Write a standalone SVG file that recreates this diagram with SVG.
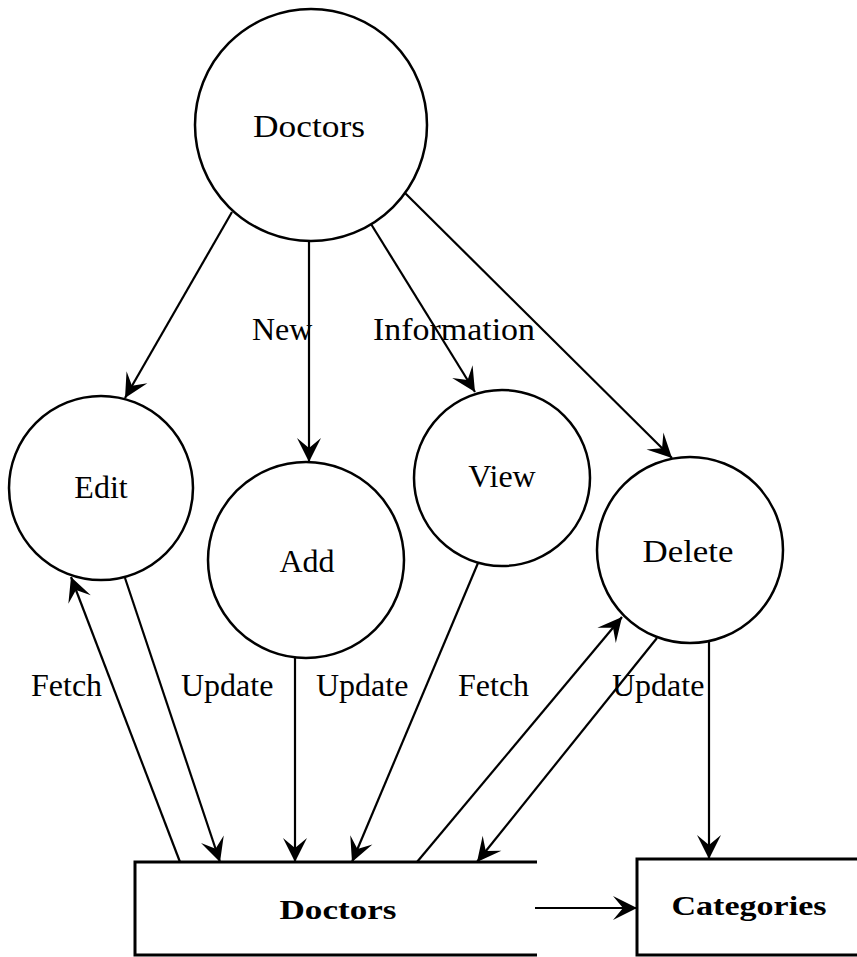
<svg xmlns="http://www.w3.org/2000/svg" width="857" height="957" viewBox="0 0 857 957">
  <style>
    .node { fill: #ffffff; stroke: #000000; stroke-width: 2.5; }
    .lbl { font-family: "Liberation Serif", "Times New Roman", serif; font-size: 32px; fill: #000000; }
    .mid { text-anchor: middle; }
    .store { font-family: "Liberation Serif", "Times New Roman", serif; font-size: 28px; font-weight: bold; fill: #000000; text-anchor: middle; }
    .edge { fill: none; stroke: #000000; stroke-width: 2.2; marker-end: url(#arrow); }
    .side { fill: none; stroke: #000000; stroke-width: 3; }
  </style>
  <defs>
    <marker id="arrow" markerUnits="userSpaceOnUse" viewBox="-26 -14 28 28" markerWidth="28" markerHeight="28" refX="0" refY="0" orient="auto">
      <path d="M0,0 L-24,-12 L-14,0 L-24,12 Z" fill="#000000"/>
    </marker>
  </defs>
  <rect width="857" height="957" fill="#ffffff"/>

  <g id="connectors">
    <line class="edge" x1="232" y1="212" x2="125" y2="398"/>
    <line class="edge" x1="309" y1="241" x2="309" y2="462"/>
    <line class="edge" x1="371" y1="224" x2="475" y2="392"/>
    <line class="edge" x1="405" y1="193" x2="672" y2="458"/>
    <line class="edge" x1="180" y1="862" x2="71" y2="577"/>
    <line class="edge" x1="125" y1="578" x2="220" y2="862"/>
    <line class="edge" x1="295" y1="657" x2="295" y2="862"/>
    <line class="edge" x1="478" y1="563" x2="352" y2="862"/>
    <line class="edge" x1="417" y1="862" x2="622" y2="617"/>
    <line class="edge" x1="657" y1="638" x2="477" y2="862"/>
    <line class="edge" x1="709" y1="641" x2="709" y2="859"/>
    <line class="edge" x1="535" y1="908" x2="637" y2="908"/>
    <text class="lbl" x="252" y="340">New</text>
    <text class="lbl" x="373" y="340" textLength="162" lengthAdjust="spacingAndGlyphs">Information</text>
    <text class="lbl" x="31" y="696">Fetch</text>
    <text class="lbl" x="181" y="696">Update</text>
    <text class="lbl" x="316" y="696">Update</text>
    <text class="lbl" x="458" y="696">Fetch</text>
    <text class="lbl" x="612" y="696">Update</text>
  </g>

  <g id="doctors-process">
    <circle class="node" cx="311" cy="125" r="116"/>
    <text class="lbl mid" x="309" y="137" textLength="112" lengthAdjust="spacingAndGlyphs">Doctors</text>
  </g>
  <g id="edit">
    <circle class="node" cx="101" cy="488" r="92"/>
    <text class="lbl mid" x="101" y="498">Edit</text>
  </g>
  <g id="add">
    <circle class="node" cx="306" cy="560" r="98"/>
    <text class="lbl mid" x="307" y="572">Add</text>
  </g>
  <g id="view">
    <circle class="node" cx="502" cy="478" r="88"/>
    <text class="lbl mid" x="502" y="487">View</text>
  </g>
  <g id="delete">
    <circle class="node" cx="690" cy="550" r="93"/>
    <text class="lbl mid" x="688" y="562" textLength="91" lengthAdjust="spacingAndGlyphs">Delete</text>
  </g>
  <g id="doctors-store">
    <path class="side" d="M537,862 H135 V955 H537"/>
    <text class="store" x="338" y="919" textLength="117" lengthAdjust="spacingAndGlyphs">Doctors</text>
  </g>
  <g id="categories-store">
    <path class="side" d="M857,859 H637 V955 H857"/>
    <text class="store" x="749" y="915" textLength="155" lengthAdjust="spacingAndGlyphs">Categories</text>
  </g>
</svg>
